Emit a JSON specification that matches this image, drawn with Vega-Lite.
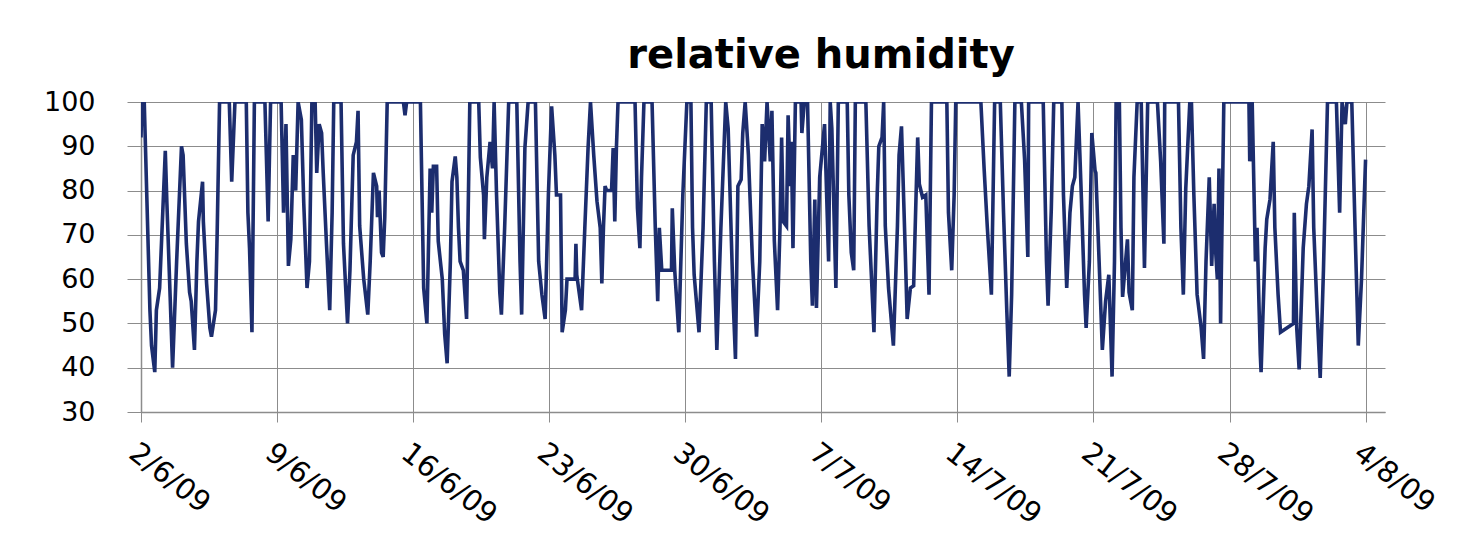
{
  "$schema": "https://vega.github.io/schema/vega-lite/v6.json",
  "autosize": "none",
  "width": 1244,
  "height": 310,
  "padding": {"left": 141, "top": 102, "right": 74, "bottom": 125},
  "background": "white",
  "title": {"text": "relative humidity", "font": "DejaVu Sans", "fontSize": 40, "fontWeight": "bold", "color": "#000000", "anchor": "middle", "dx": 58, "offset": 12},
  "config": {"view": {"stroke": null}},
  "data": {"values": [
    {"t":"2009-06-02T00:00","rh":92},{"t":"2009-06-02T01:00","rh":100},{"t":"2009-06-02T04:00","rh":100},{"t":"2009-06-02T11:00","rh":53},{"t":"2009-06-02T13:00","rh":45},{"t":"2009-06-02T17:00","rh":39},{"t":"2009-06-02T19:00","rh":53},{"t":"2009-06-02T23:00","rh":58},
    {"t":"2009-06-03T06:00","rh":89},{"t":"2009-06-03T08:00","rh":77},{"t":"2009-06-03T12:00","rh":56},{"t":"2009-06-03T15:00","rh":40},{"t":"2009-06-03T20:00","rh":64},
    {"t":"2009-06-04T02:00","rh":90},{"t":"2009-06-04T04:00","rh":88},{"t":"2009-06-04T08:00","rh":68},{"t":"2009-06-04T12:00","rh":57},{"t":"2009-06-04T14:00","rh":55},{"t":"2009-06-04T18:00","rh":44},{"t":"2009-06-04T21:00","rh":64},{"t":"2009-06-04T23:00","rh":73},
    {"t":"2009-06-05T04:00","rh":82},{"t":"2009-06-05T05:00","rh":73},{"t":"2009-06-05T09:00","rh":59},{"t":"2009-06-05T13:00","rh":49},{"t":"2009-06-05T15:00","rh":47},{"t":"2009-06-05T20:00","rh":53},{"t":"2009-06-05T22:00","rh":70},
    {"t":"2009-06-06T01:00","rh":100},{"t":"2009-06-06T13:00","rh":100},{"t":"2009-06-06T16:00","rh":82},{"t":"2009-06-06T20:00","rh":100},
    {"t":"2009-06-07T10:00","rh":100},{"t":"2009-06-07T12:00","rh":75},{"t":"2009-06-07T14:00","rh":67},{"t":"2009-06-07T17:00","rh":48},{"t":"2009-06-07T20:00","rh":100},
    {"t":"2009-06-08T09:00","rh":100},{"t":"2009-06-08T13:00","rh":73},{"t":"2009-06-08T16:00","rh":100},{"t":"2009-06-08T23:00","rh":100},
    {"t":"2009-06-09T05:00","rh":100},{"t":"2009-06-09T08:00","rh":75},{"t":"2009-06-09T11:00","rh":95},{"t":"2009-06-09T14:00","rh":63},{"t":"2009-06-09T17:00","rh":69},{"t":"2009-06-09T20:00","rh":88},{"t":"2009-06-09T23:00","rh":80},
    {"t":"2009-06-10T02:00","rh":100},{"t":"2009-06-10T06:00","rh":96},{"t":"2009-06-10T09:00","rh":77},{"t":"2009-06-10T13:00","rh":58},{"t":"2009-06-10T16:00","rh":64},{"t":"2009-06-10T19:00","rh":100},{"t":"2009-06-10T23:00","rh":100},
    {"t":"2009-06-11T01:00","rh":84},{"t":"2009-06-11T04:00","rh":95},{"t":"2009-06-11T07:00","rh":93},{"t":"2009-06-11T09:00","rh":84},{"t":"2009-06-11T13:00","rh":68},{"t":"2009-06-11T17:00","rh":53},{"t":"2009-06-11T20:00","rh":75},{"t":"2009-06-11T22:00","rh":100},
    {"t":"2009-06-12T07:00","rh":100},{"t":"2009-06-12T10:00","rh":68},{"t":"2009-06-12T13:00","rh":57},{"t":"2009-06-12T15:00","rh":50},{"t":"2009-06-12T18:00","rh":62},{"t":"2009-06-12T22:00","rh":88},
    {"t":"2009-06-13T02:00","rh":91},{"t":"2009-06-13T04:00","rh":98},{"t":"2009-06-13T06:00","rh":72},{"t":"2009-06-13T11:00","rh":60},{"t":"2009-06-13T16:00","rh":52},{"t":"2009-06-13T19:00","rh":64},{"t":"2009-06-13T23:00","rh":84},
    {"t":"2009-06-14T03:00","rh":81},{"t":"2009-06-14T04:00","rh":74},{"t":"2009-06-14T06:00","rh":80},{"t":"2009-06-14T09:00","rh":66},{"t":"2009-06-14T11:00","rh":65},{"t":"2009-06-14T13:00","rh":74},{"t":"2009-06-14T16:00","rh":100},
    {"t":"2009-06-15T12:00","rh":100},{"t":"2009-06-15T14:00","rh":97},{"t":"2009-06-15T16:00","rh":100},
    {"t":"2009-06-16T09:00","rh":100},{"t":"2009-06-16T11:00","rh":79},{"t":"2009-06-16T13:00","rh":58},{"t":"2009-06-16T17:00","rh":50},{"t":"2009-06-16T21:00","rh":85},{"t":"2009-06-16T23:00","rh":75},
    {"t":"2009-06-17T01:00","rh":85.5},{"t":"2009-06-17T05:00","rh":85.5},{"t":"2009-06-17T07:00","rh":68.6},{"t":"2009-06-17T12:00","rh":60},{"t":"2009-06-17T15:00","rh":47.5},{"t":"2009-06-17T18:00","rh":41},{"t":"2009-06-17T22:00","rh":64},
    {"t":"2009-06-18T00:00","rh":82},{"t":"2009-06-18T04:00","rh":87.7},{"t":"2009-06-18T06:00","rh":83},{"t":"2009-06-18T08:00","rh":71.6},{"t":"2009-06-18T10:00","rh":64},{"t":"2009-06-18T14:00","rh":62},{"t":"2009-06-18T18:00","rh":51},{"t":"2009-06-18T22:00","rh":100},
    {"t":"2009-06-19T09:00","rh":100},{"t":"2009-06-19T11:00","rh":87.5},{"t":"2009-06-19T15:00","rh":79},{"t":"2009-06-19T16:00","rh":69},{"t":"2009-06-19T19:00","rh":83},{"t":"2009-06-19T23:00","rh":91},
    {"t":"2009-06-20T02:00","rh":85},{"t":"2009-06-20T04:00","rh":100},{"t":"2009-06-20T07:00","rh":79},{"t":"2009-06-20T11:00","rh":57},{"t":"2009-06-20T13:00","rh":52},{"t":"2009-06-20T17:00","rh":71.6},{"t":"2009-06-20T22:00","rh":100},
    {"t":"2009-06-21T08:00","rh":100},{"t":"2009-06-21T12:00","rh":64},{"t":"2009-06-21T14:00","rh":52},{"t":"2009-06-21T18:00","rh":89.6},{"t":"2009-06-21T22:00","rh":100},
    {"t":"2009-06-22T07:00","rh":100},{"t":"2009-06-22T11:00","rh":64},{"t":"2009-06-22T15:00","rh":56.5},{"t":"2009-06-22T19:00","rh":51},{"t":"2009-06-22T23:00","rh":79},
    {"t":"2009-06-23T03:00","rh":99},{"t":"2009-06-23T07:00","rh":88},{"t":"2009-06-23T09:00","rh":79},{"t":"2009-06-23T14:00","rh":79},{"t":"2009-06-23T16:00","rh":48},{"t":"2009-06-23T20:00","rh":53},{"t":"2009-06-23T22:00","rh":60},
    {"t":"2009-06-24T08:00","rh":60},{"t":"2009-06-24T09:00","rh":68},{"t":"2009-06-24T10:00","rh":61},{"t":"2009-06-24T16:00","rh":53},{"t":"2009-06-24T20:00","rh":71.6},
    {"t":"2009-06-25T00:00","rh":89.6},{"t":"2009-06-25T03:00","rh":100},{"t":"2009-06-25T07:00","rh":88},{"t":"2009-06-25T11:00","rh":77.6},{"t":"2009-06-25T15:00","rh":71.6},{"t":"2009-06-25T17:00","rh":59},{"t":"2009-06-25T19:00","rh":71.6},{"t":"2009-06-25T21:00","rh":81},{"t":"2009-06-25T23:00","rh":80},
    {"t":"2009-06-26T05:00","rh":80},{"t":"2009-06-26T07:00","rh":89.6},{"t":"2009-06-26T09:00","rh":73},{"t":"2009-06-26T11:00","rh":89.6},{"t":"2009-06-26T13:00","rh":100},
    {"t":"2009-06-27T10:00","rh":100},{"t":"2009-06-27T13:00","rh":76},{"t":"2009-06-27T16:00","rh":67},{"t":"2009-06-27T18:00","rh":83},{"t":"2009-06-27T21:00","rh":100},
    {"t":"2009-06-28T07:00","rh":100},{"t":"2009-06-28T11:00","rh":71.6},{"t":"2009-06-28T14:00","rh":55},{"t":"2009-06-28T16:00","rh":71.6},{"t":"2009-06-28T19:00","rh":62},
    {"t":"2009-06-29T07:00","rh":62},{"t":"2009-06-29T08:00","rh":76},{"t":"2009-06-29T11:00","rh":62},{"t":"2009-06-29T16:00","rh":48},{"t":"2009-06-29T21:00","rh":79},
    {"t":"2009-06-30T02:00","rh":100},{"t":"2009-06-30T07:00","rh":100},{"t":"2009-06-30T09:00","rh":71.6},{"t":"2009-06-30T11:00","rh":61},{"t":"2009-06-30T17:00","rh":48},{"t":"2009-06-30T22:00","rh":71.6},
    {"t":"2009-07-01T02:00","rh":100},{"t":"2009-07-01T08:00","rh":100},{"t":"2009-07-01T12:00","rh":64},{"t":"2009-07-01T15:00","rh":44},{"t":"2009-07-01T20:00","rh":71.6},
    {"t":"2009-07-02T02:00","rh":100},{"t":"2009-07-02T05:00","rh":94},{"t":"2009-07-02T09:00","rh":68.6},{"t":"2009-07-02T11:00","rh":56},{"t":"2009-07-02T14:00","rh":42},{"t":"2009-07-02T17:00","rh":81},{"t":"2009-07-02T21:00","rh":82.5},{"t":"2009-07-02T23:00","rh":93},
    {"t":"2009-07-03T02:00","rh":100},{"t":"2009-07-03T06:00","rh":88},{"t":"2009-07-03T11:00","rh":64},{"t":"2009-07-03T16:00","rh":47},{"t":"2009-07-03T20:00","rh":64},{"t":"2009-07-03T23:00","rh":95},
    {"t":"2009-07-04T02:00","rh":86.6},{"t":"2009-07-04T05:00","rh":100},{"t":"2009-07-04T09:00","rh":86.6},{"t":"2009-07-04T11:00","rh":98},{"t":"2009-07-04T14:00","rh":68.6},{"t":"2009-07-04T18:00","rh":53},{"t":"2009-07-04T21:00","rh":71.6},{"t":"2009-07-04T23:00","rh":92},
    {"t":"2009-07-05T01:00","rh":73},{"t":"2009-07-05T05:00","rh":72},{"t":"2009-07-05T07:00","rh":97},{"t":"2009-07-05T10:00","rh":81},{"t":"2009-07-05T11:00","rh":91},{"t":"2009-07-05T13:00","rh":67},{"t":"2009-07-05T16:00","rh":100},{"t":"2009-07-05T23:00","rh":100},
    {"t":"2009-07-06T00:00","rh":93},{"t":"2009-07-06T03:00","rh":100},{"t":"2009-07-06T07:00","rh":100},{"t":"2009-07-06T11:00","rh":64},{"t":"2009-07-06T13:00","rh":54},{"t":"2009-07-06T16:00","rh":78},{"t":"2009-07-06T18:00","rh":53.5},{"t":"2009-07-06T22:00","rh":83},
    {"t":"2009-07-07T04:00","rh":95},{"t":"2009-07-07T09:00","rh":64},{"t":"2009-07-07T11:00","rh":100},{"t":"2009-07-07T13:00","rh":94},{"t":"2009-07-07T18:00","rh":58},{"t":"2009-07-07T21:00","rh":100},
    {"t":"2009-07-08T08:00","rh":100},{"t":"2009-07-08T10:00","rh":79},{"t":"2009-07-08T13:00","rh":66},{"t":"2009-07-08T16:00","rh":62},{"t":"2009-07-08T18:00","rh":100},
    {"t":"2009-07-09T07:00","rh":100},{"t":"2009-07-09T11:00","rh":72},{"t":"2009-07-09T17:00","rh":48},{"t":"2009-07-09T21:00","rh":79},{"t":"2009-07-09T23:00","rh":90},
    {"t":"2009-07-10T03:00","rh":92},{"t":"2009-07-10T05:00","rh":100},{"t":"2009-07-10T07:00","rh":72},{"t":"2009-07-10T11:00","rh":58},{"t":"2009-07-10T17:00","rh":45},{"t":"2009-07-10T22:00","rh":72},
    {"t":"2009-07-11T00:00","rh":88},{"t":"2009-07-11T03:00","rh":94.5},{"t":"2009-07-11T08:00","rh":64},{"t":"2009-07-11T10:00","rh":51},{"t":"2009-07-11T14:00","rh":58},{"t":"2009-07-11T18:00","rh":58.5},{"t":"2009-07-11T21:00","rh":79},{"t":"2009-07-11T23:00","rh":92},
    {"t":"2009-07-12T01:00","rh":81.5},{"t":"2009-07-12T05:00","rh":78.5},{"t":"2009-07-12T09:00","rh":79},{"t":"2009-07-12T13:00","rh":56.5},{"t":"2009-07-12T16:00","rh":100},
    {"t":"2009-07-13T11:00","rh":100},{"t":"2009-07-13T13:00","rh":75},{"t":"2009-07-13T17:00","rh":62},{"t":"2009-07-13T20:00","rh":79},{"t":"2009-07-13T22:00","rh":100},
    {"t":"2009-07-15T05:00","rh":100},{"t":"2009-07-15T09:00","rh":85},{"t":"2009-07-15T13:00","rh":71.6},{"t":"2009-07-15T18:00","rh":56.5},{"t":"2009-07-15T22:00","rh":100},
    {"t":"2009-07-16T05:00","rh":100},{"t":"2009-07-16T09:00","rh":75},{"t":"2009-07-16T13:00","rh":53},{"t":"2009-07-16T16:00","rh":38},{"t":"2009-07-16T19:00","rh":56.5},{"t":"2009-07-16T23:00","rh":100},
    {"t":"2009-07-17T07:00","rh":100},{"t":"2009-07-17T11:00","rh":87},{"t":"2009-07-17T13:00","rh":76},{"t":"2009-07-17T15:00","rh":65},{"t":"2009-07-17T16:00","rh":100},
    {"t":"2009-07-18T10:00","rh":100},{"t":"2009-07-18T14:00","rh":64},{"t":"2009-07-18T16:00","rh":54},{"t":"2009-07-18T20:00","rh":76},{"t":"2009-07-18T23:00","rh":100},
    {"t":"2009-07-19T09:00","rh":100},{"t":"2009-07-19T11:00","rh":79},{"t":"2009-07-19T15:00","rh":58},{"t":"2009-07-19T19:00","rh":75},{"t":"2009-07-19T22:00","rh":81},
    {"t":"2009-07-20T01:00","rh":83},{"t":"2009-07-20T05:00","rh":100},{"t":"2009-07-20T09:00","rh":79},{"t":"2009-07-20T13:00","rh":56.5},{"t":"2009-07-20T15:00","rh":49},{"t":"2009-07-20T19:00","rh":64},{"t":"2009-07-20T22:00","rh":93},
    {"t":"2009-07-21T02:00","rh":84.5},{"t":"2009-07-21T03:00","rh":84},{"t":"2009-07-21T07:00","rh":64},{"t":"2009-07-21T11:00","rh":44},{"t":"2009-07-21T15:00","rh":55},{"t":"2009-07-21T19:00","rh":61},{"t":"2009-07-21T23:00","rh":38},
    {"t":"2009-07-22T02:00","rh":64},{"t":"2009-07-22T04:00","rh":100},{"t":"2009-07-22T08:00","rh":100},{"t":"2009-07-22T10:00","rh":71.6},{"t":"2009-07-22T12:00","rh":56},{"t":"2009-07-22T18:00","rh":69},{"t":"2009-07-22T20:00","rh":57},
    {"t":"2009-07-23T00:00","rh":53},{"t":"2009-07-23T02:00","rh":83},{"t":"2009-07-23T06:00","rh":100},{"t":"2009-07-23T11:00","rh":100},{"t":"2009-07-23T15:00","rh":62.5},{"t":"2009-07-23T19:00","rh":100},
    {"t":"2009-07-24T07:00","rh":100},{"t":"2009-07-24T11:00","rh":86.6},{"t":"2009-07-24T15:00","rh":68},{"t":"2009-07-24T16:00","rh":100},
    {"t":"2009-07-25T09:00","rh":100},{"t":"2009-07-25T12:00","rh":71.6},{"t":"2009-07-25T15:00","rh":56.5},{"t":"2009-07-25T18:00","rh":80.5},{"t":"2009-07-25T23:00","rh":100},
    {"t":"2009-07-26T01:00","rh":100},{"t":"2009-07-26T04:00","rh":79},{"t":"2009-07-26T08:00","rh":56.5},{"t":"2009-07-26T13:00","rh":49},{"t":"2009-07-26T16:00","rh":42},{"t":"2009-07-26T19:00","rh":64},{"t":"2009-07-26T23:00","rh":83},
    {"t":"2009-07-27T02:00","rh":63},{"t":"2009-07-27T05:00","rh":77},{"t":"2009-07-27T07:00","rh":66},{"t":"2009-07-27T09:00","rh":60},{"t":"2009-07-27T11:00","rh":85},{"t":"2009-07-27T13:00","rh":50},{"t":"2009-07-27T17:00","rh":100},
    {"t":"2009-07-29T00:00","rh":100},{"t":"2009-07-29T01:00","rh":86.6},{"t":"2009-07-29T04:00","rh":100},{"t":"2009-07-29T08:00","rh":64},{"t":"2009-07-29T10:00","rh":71.6},{"t":"2009-07-29T14:00","rh":43},{"t":"2009-07-29T15:00","rh":39},{"t":"2009-07-29T20:00","rh":67},{"t":"2009-07-29T22:00","rh":73.5},
    {"t":"2009-07-30T02:00","rh":78},{"t":"2009-07-30T06:00","rh":91},{"t":"2009-07-30T08:00","rh":71.6},{"t":"2009-07-30T12:00","rh":56.5},{"t":"2009-07-30T15:00","rh":48},
    {"t":"2009-07-31T07:00","rh":50},{"t":"2009-07-31T08:00","rh":75},{"t":"2009-07-31T11:00","rh":49},{"t":"2009-07-31T14:00","rh":39.6},{"t":"2009-07-31T19:00","rh":67},{"t":"2009-07-31T23:00","rh":77},
    {"t":"2009-08-01T02:00","rh":81},{"t":"2009-08-01T06:00","rh":93.8},{"t":"2009-08-01T08:00","rh":71.6},{"t":"2009-08-01T12:00","rh":53.5},{"t":"2009-08-01T16:00","rh":37.7},{"t":"2009-08-01T20:00","rh":62},
    {"t":"2009-08-02T01:00","rh":100},{"t":"2009-08-02T12:00","rh":100},{"t":"2009-08-02T16:00","rh":75},{"t":"2009-08-02T19:00","rh":100},{"t":"2009-08-02T23:00","rh":95},
    {"t":"2009-08-03T01:00","rh":100},{"t":"2009-08-03T07:00","rh":100},{"t":"2009-08-03T11:00","rh":71.6},{"t":"2009-08-03T15:00","rh":45},{"t":"2009-08-03T19:00","rh":60},
    {"t":"2009-08-04T00:00","rh":87}
  ]},
  "mark": {"type": "line", "color": "#1c2d6e", "strokeWidth": 3.6, "strokeJoin": "miter", "clip": true},
  "encoding": {
    "x": {
      "field": "t", "type": "temporal",
      "scale": {"domain": [{"year": 2009, "month": 6, "date": 2}, {"year": 2009, "month": 8, "date": 5}]},
      "axis": {
        "title": null,
        "values": [
          {"year": 2009, "month": 6, "date": 2}, {"year": 2009, "month": 6, "date": 9}, {"year": 2009, "month": 6, "date": 16},
          {"year": 2009, "month": 6, "date": 23}, {"year": 2009, "month": 6, "date": 30}, {"year": 2009, "month": 7, "date": 7},
          {"year": 2009, "month": 7, "date": 14}, {"year": 2009, "month": 7, "date": 21}, {"year": 2009, "month": 7, "date": 28},
          {"year": 2009, "month": 8, "date": 4}
        ],
        "format": "%-d/%-m/%y",
        "labelAngle": 38, "labelAlign": "left", "labelBaseline": "top",
        "labelFont": "DejaVu Sans", "labelFontSize": 29, "labelColor": "#000000",
        "labelPadding": 16, "labelFlush": false, "labelOverlap": false,
        "tickSize": 10, "tickColor": "#8c8c8c", "domainColor": "#8c8c8c", "domainWidth": 1.5,
        "grid": true, "gridColor": "#8c8c8c", "gridWidth": 1
      }
    },
    "y": {
      "field": "rh", "type": "quantitative",
      "scale": {"domain": [30, 100], "nice": false, "zero": false},
      "axis": {
        "title": null,
        "values": [30, 40, 50, 60, 70, 80, 90, 100],
        "labelFont": "DejaVu Sans", "labelFontSize": 27, "labelColor": "#000000",
        "labelPadding": 32, "tickSize": 14, "tickColor": "#8c8c8c",
        "domainColor": "#8c8c8c", "domainWidth": 1.5,
        "grid": true, "gridColor": "#8c8c8c", "gridWidth": 1
      }
    }
  }
}
